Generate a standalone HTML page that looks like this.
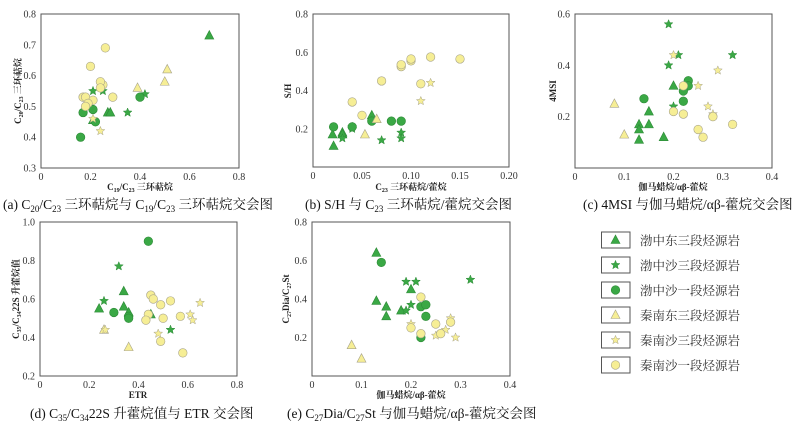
<!DOCTYPE html>
<html><head><meta charset="utf-8"><style>
body{margin:0;background:#fff;width:805px;height:423px;overflow:hidden}
svg{display:block}
.t{font-family:"Liberation Serif","Noto Serif CJK SC",serif;font-size:10px;fill:#333}
.ax{font-family:"Liberation Serif","Noto Serif CJK SC",serif;font-size:9px;fill:#222;font-weight:bold}
.cap{font-family:"Liberation Serif","Noto Serif CJK SC",serif;font-size:13.5px;fill:#111}
.lg{font-family:"Liberation Serif","Noto Serif CJK SC",serif;font-size:12.5px;fill:#333}
</style></head><body>
<svg id="s" width="805" height="423" xmlns="http://www.w3.org/2000/svg">
<!-- captions -->
<text class="cap" x="3" y="209">(a) C<tspan font-size="9" dy="3">20</tspan><tspan dy="-3">/C</tspan><tspan font-size="9" dy="3">23</tspan><tspan dy="-3"> 三环萜烷与 C</tspan><tspan font-size="9" dy="3">19</tspan><tspan dy="-3">/C</tspan><tspan font-size="9" dy="3">23</tspan><tspan dy="-3"> 三环萜烷交会图</tspan></text>
<text class="cap" x="305" y="209">(b) S/H 与 C<tspan font-size="9" dy="3">23</tspan><tspan dy="-3"> 三环萜烷/藿烷交会图</tspan></text>
<text class="cap" x="583" y="209">(c) 4MSI 与伽马蜡烷/αβ-藿烷交会图</text>
<text class="cap" x="30" y="418">(d) C<tspan font-size="9" dy="3">35</tspan><tspan dy="-3">/C</tspan><tspan font-size="9" dy="3">34</tspan><tspan dy="-3">22S 升藿烷值与 ETR 交会图</tspan></text>
<text class="cap" x="287" y="418">(e) C<tspan font-size="9" dy="3">27</tspan><tspan dy="-3">Dia/C</tspan><tspan font-size="9" dy="3">27</tspan><tspan dy="-3">St 与伽马蜡烷/αβ-藿烷交会图</tspan></text>
<!-- axis titles -->
<text class="ax" x="140" y="190" text-anchor="middle">C<tspan font-size="6" dy="2">19</tspan><tspan dy="-2">/C</tspan><tspan font-size="6" dy="2">23</tspan><tspan dy="-2"> 三环萜烷</tspan></text>
<text class="ax" x="411" y="190" text-anchor="middle">C<tspan font-size="6" dy="2">23</tspan><tspan dy="-2"> 三环萜烷/藿烷</tspan></text>
<text class="ax" x="673" y="190" text-anchor="middle">伽马蜡烷/αβ-藿烷</text>
<text class="ax" x="138" y="398" text-anchor="middle">ETR</text>
<text class="ax" x="411" y="398" text-anchor="middle">伽马蜡烷/αβ-藿烷</text>
<text class="ax" transform="translate(21,91) rotate(-90)" text-anchor="middle">C<tspan font-size="6" dy="2">20</tspan><tspan dy="-2">/C</tspan><tspan font-size="6" dy="2">23</tspan><tspan dy="-2"> 三环萜烷</tspan></text>
<text class="ax" transform="translate(291,91) rotate(-90)" text-anchor="middle">S/H</text>
<text class="ax" transform="translate(556,91) rotate(-90)" text-anchor="middle">4MSI</text>
<text class="ax" transform="translate(19,299) rotate(-90)" text-anchor="middle">C<tspan font-size="6" dy="2">35</tspan><tspan dy="-2">/C</tspan><tspan font-size="6" dy="2">34</tspan><tspan dy="-2">22S 升藿烷值</tspan></text>
<text class="ax" transform="translate(289,299) rotate(-90)" text-anchor="middle">C<tspan font-size="6" dy="2">27</tspan><tspan dy="-2">Dia/C</tspan><tspan font-size="6" dy="2">27</tspan><tspan dy="-2">St</tspan></text>
<!-- legend text -->
<text class="lg" x="640" y="245">渤中东三段烃源岩</text>
<text class="lg" x="640" y="270">渤中沙三段烃源岩</text>
<text class="lg" x="640" y="295">渤中沙一段烃源岩</text>
<text class="lg" x="640" y="320">秦南东三段烃源岩</text>
<text class="lg" x="640" y="345">秦南沙三段烃源岩</text>
<text class="lg" x="640" y="370">秦南沙一段烃源岩</text>
</svg>
<script>
var s=document.getElementById('s'),NS='http://www.w3.org/2000/svg';
function el(t,a){var e=document.createElementNS(NS,t);for(var k in a)e.setAttribute(k,a[k]);s.appendChild(e);return e}
var G='#3aa845',GS='#2d8a37',Y='#f6ee95',YS='#a8a48a';
function mark(type,x,y){
 var f=type<3?G:Y,st=type<3?GS:YS,k=type%3;
 if(k==0)el('polygon',{points:(x-4.5)+','+(y+3.5)+' '+(x+4.5)+','+(y+3.5)+' '+x+','+(y-5),fill:f,stroke:st,'stroke-width':0.6});
 else if(k==1){var p=[];for(var i=0;i<10;i++){var r=i%2?2:4.6,a=-Math.PI/2+i*Math.PI/5;p.push((x+r*Math.cos(a)).toFixed(1)+','+(y+r*Math.sin(a)).toFixed(1));}
  el('polygon',{points:p.join(' '),fill:f,stroke:st,'stroke-width':0.5});}
 else el('circle',{cx:x,cy:y,r:4.3,fill:f,stroke:st,'stroke-width':0.6});
}
function panel(P){
 el('rect',{x:P.l,y:P.t,width:P.r-P.l,height:P.b-P.t,fill:'none',stroke:'#555','stroke-width':1});
 P.xt.forEach(function(v){var x=P.l+(v-P.x0)/(P.x1-P.x0)*(P.r-P.l);var t=el('text',{x:x,y:P.b+12,'class':'t','text-anchor':'middle'});t.textContent=v==0?'0':(P.xf?v.toFixed(P.xf):String(v));});
 P.yt.forEach(function(v){var y=P.b-(v-P.y0)/(P.y1-P.y0)*(P.b-P.t);var t=el('text',{x:P.l-5,y:y+3.5,'class':'t','text-anchor':'end'});t.textContent=v.toFixed(1);});
 P.d.forEach(function(g,ti){g.forEach(function(p){mark(ti,P.l+(p[0]-P.x0)/(P.x1-P.x0)*(P.r-P.l),P.b-(p[1]-P.y0)/(P.y1-P.y0)*(P.b-P.t));});});
}
panel({l:41,r:239,t:14,b:168,x0:0,x1:0.8,y0:0.3,y1:0.8,xt:[0,0.2,0.4,0.6,0.8],yt:[0.3,0.4,0.5,0.6,0.7,0.8],xf:1,
 d:[[[0.68,0.73],[0.27,0.48],[0.28,0.48],[0.21,0.455]],
 [[0.21,0.55],[0.25,0.55],[0.35,0.48],[0.42,0.54]],
 [[0.16,0.40],[0.17,0.48],[0.21,0.49],[0.22,0.45],[0.40,0.53]],
 [[0.39,0.56],[0.50,0.58],[0.51,0.62]],
 [[0.21,0.46],[0.24,0.42]],
 [[0.26,0.69],[0.20,0.63],[0.25,0.57],[0.24,0.58],[0.24,0.56],[0.17,0.53],[0.18,0.53],[0.21,0.52],[0.19,0.51],[0.18,0.50],[0.29,0.53]]]});
panel({l:313,r:509,t:14,b:167,x0:0,x1:0.2,y0:0,y1:0.8,xt:[0,0.05,0.10,0.15,0.20],yt:[0.2,0.4,0.6,0.8],xf:2,
 d:[[[0.02,0.17],[0.021,0.11],[0.03,0.18],[0.03,0.17],[0.06,0.27]],
 [[0.04,0.21],[0.04,0.20],[0.03,0.15],[0.07,0.14],[0.09,0.18],[0.09,0.15]],
 [[0.021,0.21],[0.04,0.21],[0.06,0.24],[0.08,0.24],[0.09,0.24]],
 [[0.053,0.17],[0.065,0.25]],
 [[0.11,0.345],[0.12,0.44]],
 [[0.04,0.34],[0.05,0.27],[0.07,0.45],[0.09,0.525],[0.09,0.535],[0.10,0.555],[0.10,0.565],[0.12,0.575],[0.15,0.565],[0.11,0.435]]]});
panel({l:575,r:772,t:14,b:168,x0:0,x1:0.4,y0:0,y1:0.6,xt:[0,0.1,0.2,0.3,0.4],yt:[0.2,0.4,0.6],xf:1,
 d:[[[0.20,0.32],[0.15,0.22],[0.15,0.17],[0.13,0.17],[0.13,0.15],[0.13,0.11],[0.18,0.12]],
 [[0.19,0.56],[0.19,0.40],[0.21,0.44],[0.32,0.44],[0.20,0.24]],
 [[0.14,0.27],[0.23,0.34],[0.23,0.32],[0.22,0.30],[0.22,0.26]],
 [[0.08,0.25],[0.10,0.13]],
 [[0.20,0.44],[0.29,0.38],[0.25,0.32],[0.27,0.24],[0.28,0.21]],
 [[0.22,0.32],[0.20,0.22],[0.22,0.21],[0.28,0.20],[0.32,0.17],[0.25,0.15],[0.26,0.12]]]});
panel({l:40,r:237,t:222,b:376,x0:0,x1:0.8,y0:0.2,y1:1.0,xt:[0,0.2,0.4,0.6,0.8],yt:[0.2,0.4,0.6,0.8,1.0],xf:1,
 d:[[[0.34,0.64],[0.24,0.55],[0.34,0.56],[0.36,0.53],[0.45,0.52]],
 [[0.32,0.77],[0.26,0.59],[0.53,0.44]],
 [[0.44,0.90],[0.30,0.53],[0.36,0.51],[0.36,0.50]],
 [[0.26,0.44],[0.36,0.35]],
 [[0.265,0.44],[0.48,0.42],[0.61,0.52],[0.62,0.49],[0.65,0.58]],
 [[0.45,0.62],[0.46,0.60],[0.53,0.59],[0.49,0.57],[0.44,0.52],[0.43,0.49],[0.50,0.50],[0.57,0.51],[0.49,0.38],[0.58,0.32]]]});
panel({l:312,r:510,t:222,b:376,x0:0,x1:0.4,y0:0,y1:0.8,xt:[0,0.1,0.2,0.3,0.4],yt:[0.2,0.4,0.6,0.8],xf:1,
 d:[[[0.13,0.64],[0.13,0.39],[0.15,0.36],[0.15,0.31],[0.18,0.34],[0.20,0.45]],
 [[0.19,0.49],[0.21,0.49],[0.32,0.50],[0.20,0.37],[0.19,0.34]],
 [[0.14,0.59],[0.22,0.36],[0.23,0.37],[0.23,0.31],[0.22,0.20]],
 [[0.08,0.16],[0.10,0.09]],
 [[0.20,0.27],[0.28,0.30],[0.27,0.24],[0.25,0.21],[0.29,0.20]],
 [[0.22,0.41],[0.20,0.25],[0.22,0.22],[0.25,0.27],[0.26,0.22],[0.28,0.28]]]});
for(var i=0;i<6;i++){var cy=240+25*i;el('rect',{x:601.5,y:cy-8,width:28.5,height:16,fill:'#fff',stroke:'#555','stroke-width':1});mark(i,615.5,cy);}
</script>
</body></html>
